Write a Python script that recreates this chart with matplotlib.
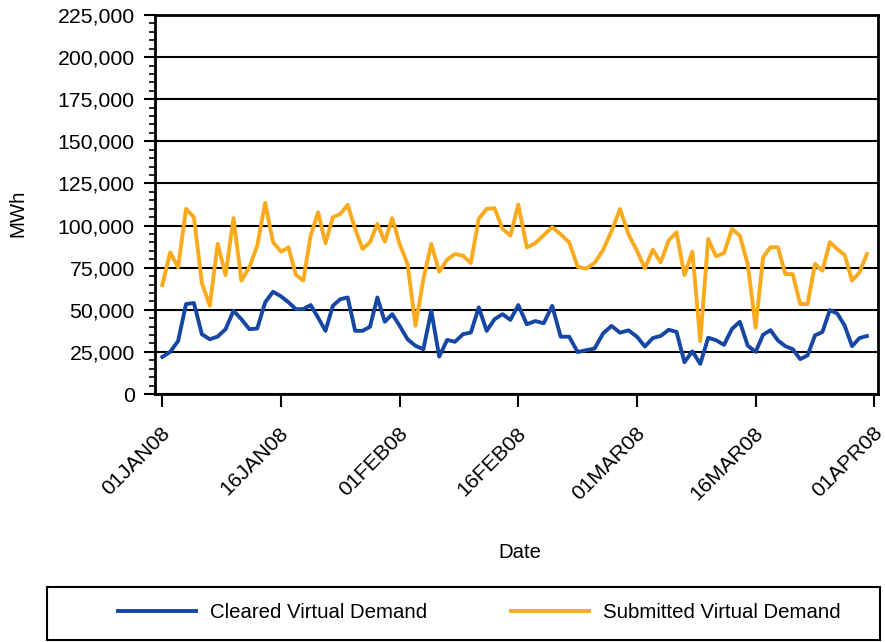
import numpy as np
import pandas as pd
import matplotlib
matplotlib.use("Agg")
import matplotlib.pyplot as plt
import matplotlib.transforms as mtransforms
from matplotlib.ticker import FuncFormatter, MultipleLocator
from matplotlib.patches import Rectangle

plt.rcParams['font.family'] = ['Liberation Sans', 'DejaVu Sans']

# daily values, 01JAN08 .. 31MAR08 (MWh)
submitted = [64700, 84100, 75200, 109900, 105000, 65900, 52400, 89100, 70600, 104400,
             67300, 75200, 88100, 113500, 90100,
             84500, 87100, 70800, 67300, 94000, 107900, 89500, 105000, 106900, 112300,
             98000, 86100, 90100, 101000, 90500, 104400,
             89000,
             77200, 40500, 68300, 89100, 72600, 79800, 83100, 82100, 77800, 104000,
             109900, 110300, 98000, 94000, 112500,
             87000, 89600, 94300, 99000, 94800, 90000, 75600, 74400, 77800, 85500,
             96800, 109800, 94800,
             85000,
             74600, 85700, 78100, 91100, 96000, 70600, 84500, 31400, 92000, 81700,
             83700, 98000, 94000, 77100, 39400,
             81200, 87100, 87100, 71200, 71200, 53400, 53400, 77200, 73200, 90100,
             86100, 82500, 67300, 72200, 83100]

cleared = [22000, 25000, 31500, 53400, 54000, 35500, 32500, 34100, 38500, 49400,
           44400, 38500, 38900, 54400, 60700,
           58000, 54500, 50400, 50400, 52800, 45400, 37500, 52400, 56300, 57300,
           37500, 37500, 39900, 57300, 42900, 47400,
           40500, 32500, 28600, 26600, 49400, 22200, 32100, 31000, 35500, 36500,
           51400, 37500, 44400, 47400, 44000, 52800,
           41400, 43300, 42000, 52300, 34000, 34000, 24900, 26000, 27000, 36000,
           40400, 36400, 37800,
           34000,
           28200, 33200, 34500, 38100, 36900, 18900, 25300, 17900, 33400, 31900,
           29200, 38600, 42900, 28700, 25000,
           35200, 37900, 31800, 28400, 26600, 20700, 22900, 34800, 36800, 49800,
           47800, 40600, 28400, 33200, 34400]

tick_labels = ['01JAN08', '16JAN08', '01FEB08', '16FEB08', '01MAR08', '16MAR08', '01APR08']
tick_dates = ['2008-01-01', '2008-01-16', '2008-02-01', '2008-02-16',
              '2008-03-01', '2008-03-16', '2008-04-01']

start = pd.Timestamp('2008-01-01')
days = np.arange(len(submitted))
tick_days = np.array([(pd.Timestamp(d) - start).days for d in tick_dates])

# the axis puts its date ticks at equal spacing, so each half month gets the same width
kd = np.concatenate([[tick_days[0] - 15], tick_days, [tick_days[-1] + 16]])
kp = np.arange(-1, len(tick_days) + 1)

def fwd(x):
    return np.interp(x, kd, kp)

def inv(p):
    return np.interp(p, kp, kd)

blue = '#1547a3'
orange = '#f9ab1d'
fs = 14.7

fig = plt.figure(figsize=(8.85, 6.42), dpi=100)
ax = fig.add_axes([155/885, 1 - 394/642, (878 - 155)/885, (394 - 15)/642])
ax.set_xscale('function', functions=(fwd, inv))

ax.plot(days, cleared, color=blue, lw=2.8, label='Cleared Virtual Demand')
ax.plot(days, submitted, color=orange, lw=2.8, label='Submitted Virtual Demand')

ax.set_ylim(0, 225000)
ax.set_xlim(inv(-0.0615), inv(6.031))
ax.yaxis.set_major_locator(MultipleLocator(25000))
ax.yaxis.set_minor_locator(MultipleLocator(5000))
ax.yaxis.set_major_formatter(FuncFormatter(lambda v, p: f'{int(v):,}'))
ax.set_xticks(tick_days)
ax.set_xticklabels(tick_labels)
ax.xaxis.set_minor_locator(plt.NullLocator())
ax.grid(axis='y', color='black', lw=1.5)
ax.set_axisbelow(True)

for s in ax.spines.values():
    s.set_linewidth(2)
ax.tick_params(axis='y', which='major', length=8, width=1.5, labelsize=15.3, pad=6.5)
ax.tick_params(axis='y', which='minor', length=4, width=1.2)
ax.tick_params(axis='x', which='major', length=9, width=1.5, labelsize=15.3)

offset = mtransforms.ScaledTranslation(-0.02, -0.12, fig.dpi_scale_trans)
for lab in ax.get_xticklabels():
    lab.set_rotation(45)
    lab.set_ha('right')
    lab.set_va('top')
    lab.set_rotation_mode('anchor')
    lab.set_transform(lab.get_transform() + offset)

ax.set_ylabel('MWh', fontsize=fs, va='center', ha='center')
ax.yaxis.set_label_coords((18 - 155)/723, (394 - 213)/379)
ax.set_xlabel('Date', fontsize=fs, va='center', ha='center')
ax.xaxis.set_label_coords((520 - 155)/723, (394 - 552)/379)

# legend below, inside its own box
fig.legend(loc='center left', bbox_to_anchor=(118/885, 1 - 613/642), ncol=2,
           frameon=False, fontsize=fs, handlelength=3.82, handletextpad=0.69,
           columnspacing=4.1, borderpad=0, borderaxespad=0)
fig.add_artist(Rectangle((47/885, 1 - 640/642), (880 - 47)/885, (640 - 587)/642,
                         transform=fig.transFigure, fill=False, lw=1.5, color='black'))

fig.savefig('out.png', dpi=100)
